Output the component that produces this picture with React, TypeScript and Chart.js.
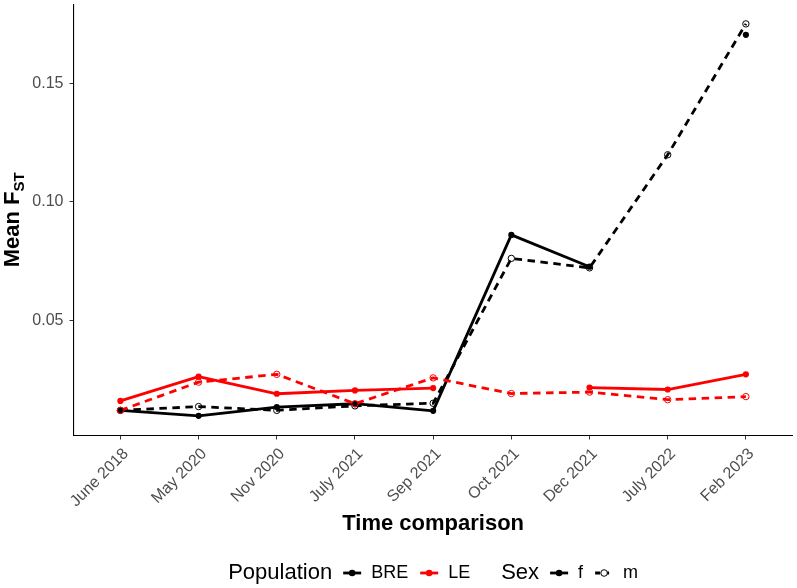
import React, { useEffect, useRef } from "react";
import { Chart, registerables } from "chart.js";

Chart.register(...registerables);

const FONT = "'Liberation Sans', Arial, Helvetica, sans-serif";

const categories = [
  "June 2018",
  "May 2020",
  "Nov 2020",
  "July 2021",
  "Sep 2021",
  "Oct 2021",
  "Dec 2021",
  "July 2022",
  "Feb 2023",
];
const breFemale = [0.0121, 0.0098, 0.0135, 0.0149, 0.0119, 0.0861, 0.0727, null, 0.1705];
const breMale = [0.0121, 0.0137, 0.0121, 0.014, 0.0151, 0.0762, 0.0722, 0.1199, 0.1751];
const leFemale = [0.0161, 0.0263, 0.0191, 0.0205, 0.0215, null, 0.0217, 0.0209, 0.0273];
const leMale = [0.0121, 0.024, 0.0273, 0.0149, 0.0258, 0.0192, 0.0198, 0.0166, 0.0179];
const yTicks = [0.05, 0.1, 0.15];
const yMin = 0.0015;
const yMax = 0.1834;

const BLACK = "#000000";
const RED = "#FF0000";
const DASH = [7.5, 5.5];

const toXY = (vals: (number | null)[]) => vals.map((y, i) => ({ x: i, y }));

const lineDs = (vals: (number | null)[], color: string, dashed: boolean, order: number) => ({
  type: "line",
  data: toXY(vals),
  borderColor: color,
  borderWidth: 2.8,
  borderDash: dashed ? DASH : [],
  borderCapStyle: "butt",
  borderJoinStyle: "round",
  pointRadius: 0,
  pointHoverRadius: 0,
  spanGaps: false,
  tension: 0,
  fill: false,
  clip: false,
  order,
});

const pointDs = (vals: (number | null)[], color: string, open: boolean, order: number) => ({
  type: "line",
  data: toXY(vals),
  showLine: false,
  pointRadius: open ? 3.2 : 3.1,
  pointHoverRadius: 3,
  pointBorderWidth: open ? 1 : 0,
  pointBackgroundColor: open ? "rgba(0,0,0,0)" : color,
  pointBorderColor: color,
  clip: false,
  order,
});

const decorPlugin = {
  id: "decor",
  afterDraw(chart: any) {
    const ctx = chart.ctx as CanvasRenderingContext2D;
    const area = chart.chartArea;

    // Y axis title: Mean F_ST
    ctx.save();
    const cy = (area.top + area.bottom) / 2;
    ctx.translate(19, cy);
    ctx.rotate(-Math.PI / 2);
    ctx.fillStyle = "#000";
    ctx.textBaseline = "alphabetic";
    ctx.textAlign = "left";
    const big = `bold 22px ${FONT}`;
    const small = `bold 15px ${FONT}`;
    ctx.font = big;
    const w1 = ctx.measureText("Mean F").width;
    ctx.font = small;
    const w2 = ctx.measureText("ST").width;
    const start = -(w1 + w2) / 2;
    ctx.font = big;
    ctx.fillText("Mean F", start, 0);
    ctx.font = small;
    ctx.fillText("ST", start + w1, 5);
    ctx.restore();

    // Legend
    ctx.save();
    const ly = 573;
    const titleFont = `22px ${FONT}`;
    const labelFont = `18px ${FONT}`;
    const keyW = 18;
    const groups = [
      {
        title: "Population",
        items: [
          { label: "BRE", color: BLACK, dashed: false, open: false },
          { label: "LE", color: RED, dashed: false, open: false },
        ],
      },
      {
        title: "Sex",
        items: [
          { label: "f", color: BLACK, dashed: false, open: false },
          { label: "m", color: BLACK, dashed: true, open: true },
        ],
      },
    ];
    const titleGap = 11;
    const keyLabelGap = 10;
    const itemGap = 12;
    const groupGap = 31;
    let total = 0;
    groups.forEach((g, gi) => {
      ctx.font = titleFont;
      total += ctx.measureText(g.title).width + titleGap;
      g.items.forEach((it, ii) => {
        ctx.font = labelFont;
        total += keyW + keyLabelGap + ctx.measureText(it.label).width;
        if (ii < g.items.length - 1) total += itemGap;
      });
      if (gi < groups.length - 1) total += groupGap;
    });
    let x = (area.left + area.right) / 2 - total / 2;
    ctx.textBaseline = "middle";
    ctx.textAlign = "left";
    groups.forEach((g) => {
      ctx.font = titleFont;
      ctx.fillStyle = "#000";
      ctx.fillText(g.title, x, ly);
      x += ctx.measureText(g.title).width + titleGap;
      g.items.forEach((it) => {
        ctx.strokeStyle = it.color;
        ctx.lineWidth = 2.8;
        ctx.lineCap = "butt";
        ctx.setLineDash(it.dashed ? [5, 4] : []);
        ctx.beginPath();
        ctx.moveTo(x, ly);
        ctx.lineTo(x + keyW, ly);
        ctx.stroke();
        ctx.setLineDash([]);
        ctx.beginPath();
        ctx.arc(x + keyW / 2, ly, 3.3, 0, Math.PI * 2);
        if (it.open) {
          ctx.fillStyle = "#fff";
          ctx.fill();
          ctx.lineWidth = 1;
          ctx.strokeStyle = it.color;
          ctx.stroke();
        } else {
          ctx.fillStyle = it.color;
          ctx.fill();
        }
        x += keyW + keyLabelGap;
        ctx.font = labelFont;
        ctx.fillStyle = "#000";
        ctx.fillText(it.label, x, ly);
        x += ctx.measureText(it.label).width + itemGap;
      });
      x += groupGap - itemGap;
    });
    ctx.restore();
  },
};

export default function App() {
  const ref = useRef<HTMLCanvasElement>(null);

  useEffect(() => {
    if (!ref.current) return;
    const chart = new Chart(ref.current, {
      type: "line",
      data: {
        datasets: [
          lineDs(breFemale, BLACK, false, 8),
          lineDs(breMale, BLACK, true, 7),
          lineDs(leFemale, RED, false, 6),
          lineDs(leMale, RED, true, 5),
          pointDs(breFemale, BLACK, false, 4),
          pointDs(breMale, BLACK, true, 3),
          pointDs(leFemale, RED, false, 2),
          pointDs(leMale, RED, true, 1),
        ] as any,
      },
      options: {
        animation: false,
        responsive: false,
        devicePixelRatio: 1,
        events: [],
        layout: { padding: { top: 2, left: 0, right: 0, bottom: 0 } },
        plugins: { legend: { display: false }, tooltip: { enabled: false } },
        scales: {
          x: {
            type: "linear",
            min: -0.6,
            max: 8.6,
            afterBuildTicks: (s: any) => {
              s.ticks = categories.map((_, i) => ({ value: i }));
            },
            afterFit: (s: any) => {
              s.height = 588 - 435.5;
              s.paddingLeft = 0;
              s.paddingRight = 0;
              s.paddingTop = 0;
              s.paddingBottom = 0;
            },
            ticks: {
              autoSkip: false,
              maxRotation: 45,
              minRotation: 45,
              labelOffset: 5.5,
              padding: 5,
              color: "#4D4D4D",
              font: { family: FONT, size: 16 },
              callback: (v: any) => categories[Math.round(Number(v))] ?? "",
            },
            grid: {
              drawOnChartArea: false,
              drawTicks: true,
              tickLength: 4,
              color: "#333333",
              lineWidth: 1,
            },
            border: { display: true, color: "#000", width: 1.1 },
            title: {
              display: true,
              text: "Time comparison",
              color: "#000",
              font: { family: FONT, size: 22, weight: "bold" },
              padding: { top: 0, bottom: 51 },
            },
          },
          y: {
            type: "linear",
            min: yMin,
            max: yMax,
            afterBuildTicks: (s: any) => {
              s.ticks = yTicks.map((v) => ({ value: v }));
            },
            afterFit: (s: any) => {
              s.width = 73.5;
              s.paddingTop = 0;
              s.paddingBottom = 0;
              s.paddingLeft = 0;
              s.paddingRight = 0;
            },
            ticks: {
              padding: 6,
              color: "#4D4D4D",
              font: { family: FONT, size: 16 },
              callback: (v: any) => Number(v).toFixed(2),
            },
            grid: {
              drawOnChartArea: false,
              drawTicks: true,
              tickLength: 4,
              color: "#333333",
              lineWidth: 1,
            },
            border: { display: true, color: "#000", width: 1.1 },
          },
        },
      } as any,
      plugins: [decorPlugin],
    });
    return () => chart.destroy();
  }, []);

  return (
    <div
      style={{
        position: "absolute",
        left: 0,
        top: 0,
        width: 797,
        height: 588,
        background: "#fff",
      }}
    >
      <canvas ref={ref} width={797} height={588} style={{ display: "block" }} />
    </div>
  );
}
